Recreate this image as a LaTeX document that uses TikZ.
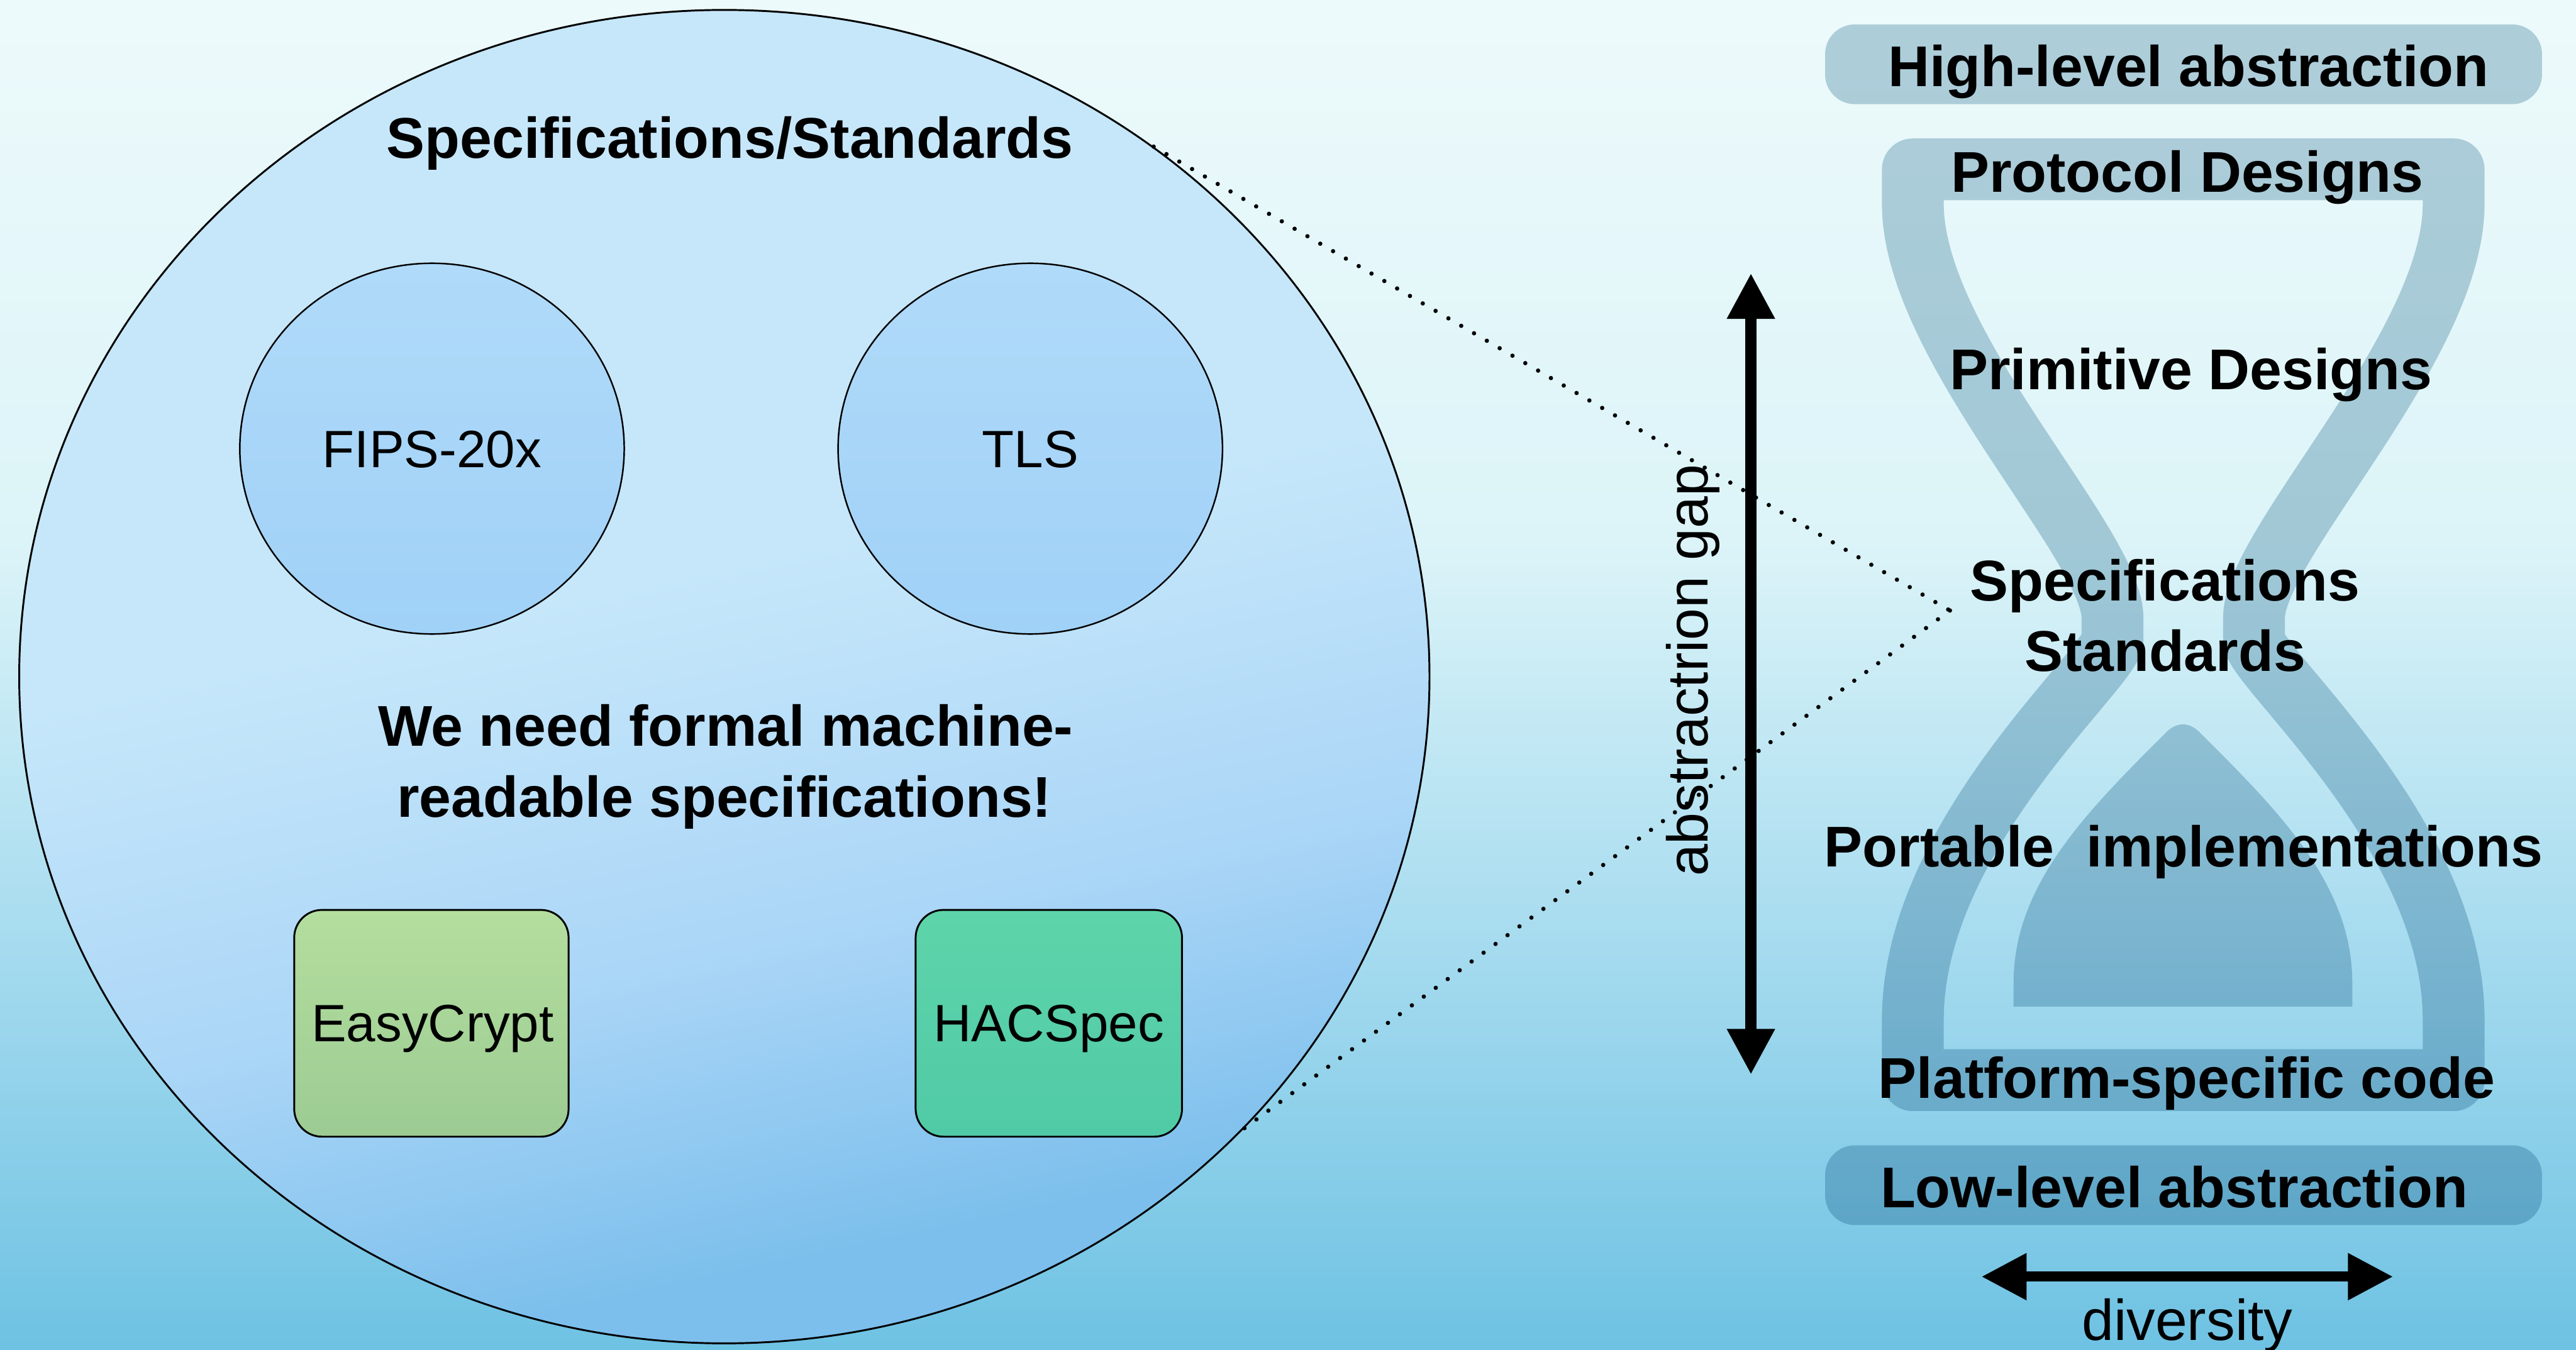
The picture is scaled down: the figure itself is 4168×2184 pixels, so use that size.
\documentclass[tikz,border=0pt]{standalone}
\usepackage{fontspec}
\setmainfont{Liberation Sans}
\usetikzlibrary{arrows.meta,shapes.geometric}

\definecolor{bgA}{HTML}{EDFAFB}
\definecolor{bgB}{HTML}{DCF4F8}
\definecolor{bgC}{HTML}{A6DBEF}
\definecolor{bgD}{HTML}{6EC2E3}
\definecolor{elTop}{HTML}{C6E7FA}
\definecolor{elMid}{HTML}{ABD6F7}
\definecolor{elBot}{HTML}{7CBFEC}
\definecolor{inTop}{HTML}{B0DAF9}
\definecolor{inBot}{HTML}{A0D1F7}
\definecolor{ecTop}{HTML}{B4DE9E}
\definecolor{ecBot}{HTML}{9CCB93}
\definecolor{hsTop}{HTML}{5ED4AA}
\definecolor{hsBot}{HTML}{50CAA6}
\definecolor{hgc}{HTML}{BCD2DD}

% background: light at the top, deeper cyan towards the bottom
\pgfdeclareverticalshading{bgfade}{100bp}{%
  color(0bp)=(bgD); color(25bp)=(bgD); color(40bp)=(bgC);
  color(55bp)=(bgB); color(75bp)=(bgA); color(100bp)=(bgA)}
% bubble fill: stays light over most of its area, blue towards the bottom
\pgfdeclareverticalshading{elfade}{100bp}{%
  color(0bp)=(elBot); color(28bp)=(elBot); color(40bp)=(elMid);
  color(54bp)=(elTop); color(100bp)=(elTop)}

\begin{document}
\begin{tikzpicture}[x=0.1pt,y=-0.1pt,
  hdr/.style={font=\fontsize{9.3pt}{11pt}\selectfont\bfseries, anchor=base, inner sep=0pt},
  plain/.style={font=\fontsize{9.3pt}{11pt}\selectfont, anchor=base, inner sep=0pt},
  lbl/.style={font=\fontsize{8.5pt}{10pt}\selectfont, anchor=base, inner sep=0pt},
  bubble/.style={ellipse, draw=black, line width=0.25pt, inner sep=0pt,
    top color=inTop, bottom color=inBot},
  tool/.style={draw=black, line width=0.3pt, rounded corners=4.5pt, inner sep=0pt,
    minimum height=36.7pt},
  band/.style={draw=hgc, line width=10pt, line join=round},
  tag/.style={fill=hgc, rounded corners=4.8pt, inner sep=0pt,
    minimum width=116pt, minimum height=12.9pt},
  dots/.style={line width=0.7pt, dash pattern=on 0pt off 2.4pt, line cap=round},
  bigarrow/.style={line width=1.8pt,
    {Triangle[length=7.4pt,width=7.3pt]}-{Triangle[length=7.4pt,width=7.3pt]}},
  widearrow/.style={line width=1.6pt,
    {Triangle[length=7.3pt,width=7.2pt]}-{Triangle[length=7.3pt,width=7.2pt]}}]

\useasboundingbox (0,0) rectangle (4168,2184);
\shade[shading=bgfade] (0,0) rectangle (4168,2184);

% ---------- left: specifications bubble ----------
\node[ellipse, draw=black, line width=0.3pt, inner sep=0pt,
      minimum width=228.2pt, minimum height=215.8pt,
      shading=elfade, shading angle=12] (spec) at (1172,1095) {};

\node[bubble, minimum width=62.2pt, minimum height=60pt] (fips) at (699,726) {};
\node[bubble, minimum width=62.2pt, minimum height=60pt] (tls) at (1667,726) {};

\node[tool, minimum width=44.4pt, top color=ecTop, bottom color=ecBot] (ec) at (698,1656) {};
\node[tool, minimum width=43.1pt, top color=hsTop, bottom color=hsBot] (hs) at (1697,1656) {};

\node[hdr] (t-spec) at (1181,256) {Specifications/Standards};
\node[lbl] (t-fips) at (699,757) {FIPS-20x};
\node[lbl] (t-tls) at (1667,757) {TLS};
\node[hdr] (t-need1) at (1174,1207) {We need formal machine-};
\node[hdr] (t-need2) at (1172,1322) {readable specifications!};
\node[lbl] (t-ec) at (700,1686) {EasyCrypt};
\node[lbl] (t-hs) at (1697,1686) {HACSpec};

% ---------- right: hourglass of abstraction levels ----------
\begin{scope}[blend mode=multiply]
  \node[tag] (hi) at (3533,104) {};
  \node[tag] (lo) at (3533,1918) {};
  \draw[band] (3095,274) -- (3095,330)
    .. controls (3095,560) and (3418,880) .. (3418,1000) -- (3418,1035)
    .. controls (3418,1080) and (3095,1350) .. (3095,1650) -- (3095,1748)
    -- (3970,1748) -- (3970,1650)
    .. controls (3970,1350) and (3647,1080) .. (3647,1035) -- (3647,1000)
    .. controls (3647,880) and (3970,560) .. (3970,330) -- (3970,274) -- cycle;
  \fill[hgc] (3258,1629) -- (3258,1590)
    .. controls (3258,1430) and (3380,1310) .. (3505,1185)
    .. controls (3522,1168) and (3542,1168) .. (3559,1185)
    .. controls (3684,1310) and (3806,1430) .. (3806,1590)
    -- (3806,1629) -- cycle;
\end{scope}

\node[hdr] (t-hi) at (3541,140) {High-level abstraction};
\node[hdr] (t-proto) at (3539,311) {Protocol Designs};
\node[hdr] (t-prim) at (3545,630) {Primitive Designs};
\node[hdr] (t-spec2) at (3503,972) {Specifications};
\node[hdr] (t-std) at (3503,1086) {Standards};
\node[hdr] (t-port) at (3533,1403) {Portable\ \ implementations};
\node[hdr] (t-plat) at (3538,1777) {Platform-specific code};
\node[hdr] (t-lo) at (3518,1954) {Low-level abstraction};
\node[plain] (t-div) at (3539,2169) {diversity};

% ---------- zoom lines from the bubble to the hourglass neck ----------
\coordinate (apex) at (3155,988);
\draw[dots] (spec.51) -- (apex);
\draw[dots] (apex) -- (spec.-41);

% ---------- arrows ----------
\coordinate (gtop) at (2833,442);
\coordinate (gbot) at (2833,1739);
\draw[bigarrow] (gbot) -- (gtop);
\node[plain, rotate=90] (t-gap) at (2763,1085) {abstractrion gap};

\coordinate (dl) at (3206,2066);
\coordinate (dr) at (3872,2066);
\draw[widearrow] (dl) -- (dr);

\end{tikzpicture}
\end{document}
